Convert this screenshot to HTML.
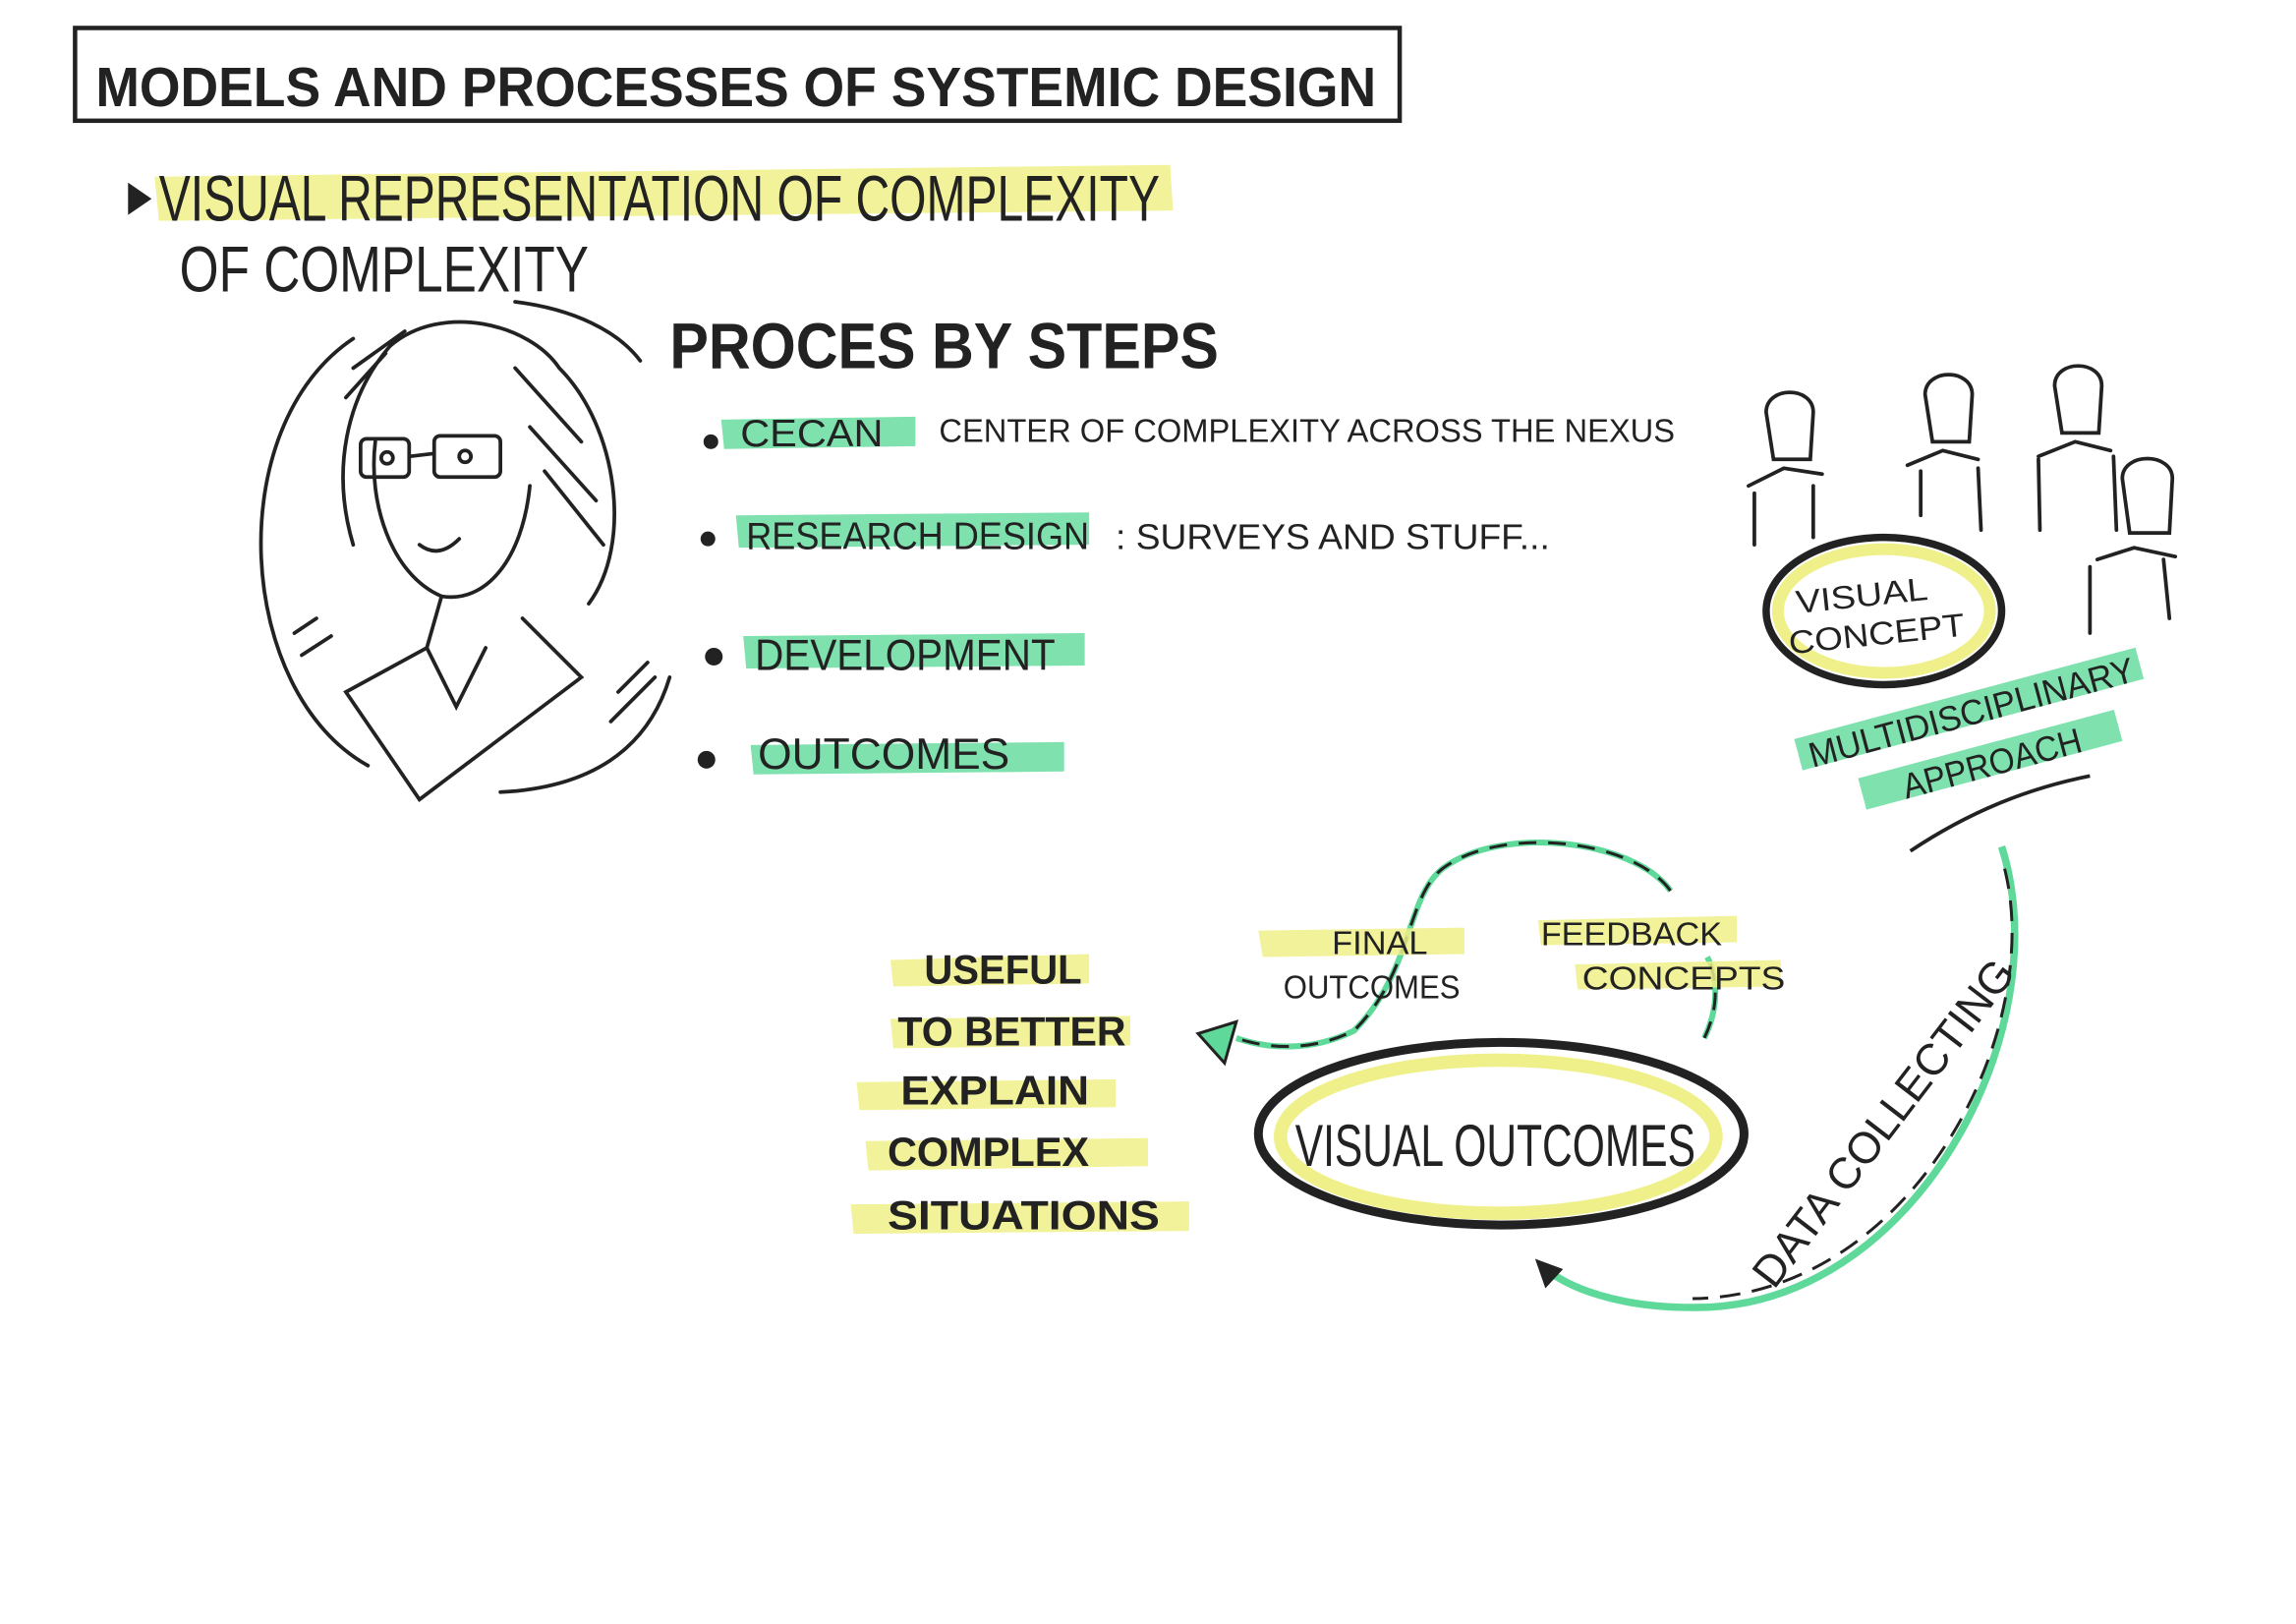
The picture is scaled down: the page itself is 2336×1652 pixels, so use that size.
<!DOCTYPE html>
<html><head><meta charset="utf-8">
<style>
html,body{margin:0;padding:0;background:#fff;}
svg{display:block;}
text{font-family:"Liberation Sans",sans-serif;fill:#222;}
.b{font-weight:bold;}
</style></head>
<body>
<svg width="2336" height="1652" viewBox="0 0 1560 1103" preserveAspectRatio="none" xmlns="http://www.w3.org/2000/svg">
<rect width="1560" height="1103" fill="#fff"/>
<rect x="51" y="19" width="900" height="63" fill="none" stroke="#222" stroke-width="3"/>
<text class="b" x="65" y="72" font-size="38" textLength="870" lengthAdjust="spacingAndGlyphs">MODELS AND PROCESSES OF SYSTEMIC DESIGN</text>

<path d="M105 120 L795 112 L797 143 L108 150 Z" fill="#f0f08a" opacity="0.85"/>
<polygon points="87,124 103,135 87,146" fill="#222"/>
<text x="108" y="150" font-size="44" textLength="680" lengthAdjust="spacingAndGlyphs">VISUAL REPRESENTATION  OF  COMPLEXITY</text>
<text x="122" y="198" font-size="44" textLength="278" lengthAdjust="spacingAndGlyphs">OF COMPLEXITY</text>

<g fill="none" stroke="#222" stroke-width="2.5" stroke-linecap="round">
<path d="M240 230 C150 290 160 470 250 520"/>
<path d="M350 205 C390 210 420 225 435 245"/>
<path d="M455 460 C440 510 400 535 340 538"/>
<path d="M265 235 C300 205 360 220 380 250 C420 290 430 370 400 410"/>
<path d="M265 235 C235 270 225 320 240 370"/>
<path d="M255 300 C250 340 265 390 300 405 C330 410 355 380 360 330"/>
<rect x="245" y="298" width="33" height="26" rx="4"/>
<rect x="295" y="296" width="45" height="28" rx="4"/>
<line x1="278" y1="310" x2="295" y2="308"/>
<circle cx="263" cy="311" r="4"/><circle cx="316" cy="310" r="4"/>
<path d="M285 370 Q298 380 312 366"/>
<path d="M300 405 L290 440 L235 470 L285 543 L395 460 L355 420"/>
<path d="M290 440 L310 480 L330 440"/>
<path d="M240 250 L275 225 M235 270 L262 240 M350 250 L395 300 M360 290 L405 340 M370 320 L410 370"/>
<path d="M200 430 L215 420 M205 445 L225 432 M420 470 L440 450 M415 490 L445 460"/>
</g>

<text class="b" x="455" y="250" font-size="44" textLength="373" lengthAdjust="spacingAndGlyphs">PROCES BY STEPS</text>
<path d="M490 285 L622 283 L622 303 L492 305 Z" fill="#5fd99a" opacity="0.8"/>
<circle cx="483" cy="300" r="5" fill="#222"/>
<text x="503" y="303" font-size="26" textLength="97" lengthAdjust="spacingAndGlyphs">CECAN</text>
<text x="638" y="300" font-size="22" textLength="500" lengthAdjust="spacingAndGlyphs">CENTER  OF  COMPLEXITY  ACROSS  THE  NEXUS</text>

<path d="M500 350 L740 348 L740 370 L502 372 Z" fill="#5fd99a" opacity="0.8"/>
<circle cx="481" cy="366" r="5" fill="#222"/>
<text x="507" y="373" font-size="26" textLength="233" lengthAdjust="spacingAndGlyphs">RESEARCH DESIGN</text>
<text x="758" y="373" font-size="24" textLength="295" lengthAdjust="spacingAndGlyphs">:  SURVEYS  AND STUFF...</text>

<path d="M505 432 L737 430 L737 452 L507 454 Z" fill="#5fd99a" opacity="0.8"/>
<circle cx="485" cy="446" r="6" fill="#222"/>
<text x="513" y="455" font-size="30" textLength="204" lengthAdjust="spacingAndGlyphs">DEVELOPMENT</text>

<path d="M510 506 L723 504 L723 524 L512 526 Z" fill="#5fd99a" opacity="0.8"/>
<circle cx="480" cy="516" r="6" fill="#222"/>
<text x="515" y="522" font-size="30" textLength="171" lengthAdjust="spacingAndGlyphs">OUTCOMES</text>

<g fill="none" stroke="#222" stroke-width="2.5" stroke-linecap="round">
<path d="M1200 280 C1200 262 1232 262 1232 280 L1230 312 L1205 312 Z"/><path d="M1188 330 L1212 318 L1238 322 M1192 335 L1192 370 M1232 330 L1232 365"/>
<path d="M1308 268 C1308 250 1340 250 1340 268 L1338 300 L1313 300 Z"/><path d="M1296 316 L1320 306 L1344 312 M1305 320 L1305 350 M1344 318 L1346 360"/>
<path d="M1396 262 C1396 244 1428 244 1428 262 L1426 294 L1401 294 Z"/><path d="M1385 310 L1410 300 L1434 306 M1385 312 L1386 360 M1436 310 L1438 360"/>
<path d="M1442 325 C1442 307 1476 307 1476 325 L1474 362 L1447 362 Z"/><path d="M1425 380 L1450 372 L1478 378 M1420 385 L1420 430 M1470 380 L1474 420"/>
</g>

<ellipse cx="1280" cy="415" rx="72" ry="42" fill="none" stroke="#f0f08a" stroke-width="8"/>
<ellipse cx="1280" cy="415" rx="80" ry="50" fill="none" stroke="#222" stroke-width="5"/>
<text x="1220" y="412" font-size="22" textLength="90" lengthAdjust="spacingAndGlyphs" transform="rotate(-6 1265 405)">VISUAL</text>
<text x="1215" y="438" font-size="22" textLength="120" lengthAdjust="spacingAndGlyphs" transform="rotate(-6 1275 430)">CONCEPT</text>

<g transform="rotate(-15 1340 482)">
<rect x="1218" y="470" width="240" height="22" fill="#5fd99a" opacity="0.8"/>
<text x="1225" y="492" font-size="24" textLength="228" lengthAdjust="spacingAndGlyphs">MULTIDISCIPLINARY</text>
</g>
<g transform="rotate(-15 1352 515)">
<rect x="1262" y="505" width="180" height="22" fill="#5fd99a" opacity="0.8"/>
<text x="1290" y="527" font-size="24" textLength="125" lengthAdjust="spacingAndGlyphs">APPROACH</text>
</g>
<path d="M1298 578 C1340 550 1380 535 1420 527" fill="none" stroke="#222" stroke-width="2.5"/>

<path d="M1360 575 C1400 700 1300 890 1150 888 C1100 888 1065 875 1048 860" fill="none" stroke="#5fd99a" stroke-width="5"/>
<path d="M1362 590 C1390 700 1300 880 1150 882" fill="none" stroke="#222" stroke-width="2" stroke-dasharray="14 8"/>
<polygon points="1043,855 1062,862 1050,875" fill="#222"/>
<text x="1143" y="774" font-size="30" textLength="271" lengthAdjust="spacingAndGlyphs" transform="rotate(-52.5 1278 762)">DATA COLLECTING</text>

<ellipse cx="1018" cy="772" rx="148" ry="52" fill="none" stroke="#f0f08a" stroke-width="9"/>
<ellipse cx="1020" cy="770" rx="165" ry="62" fill="none" stroke="#222" stroke-width="6"/>
<text x="880" y="792" font-size="40" textLength="272" lengthAdjust="spacingAndGlyphs">VISUAL OUTCOMES</text>

<path d="M1158 705 C1170 680 1165 660 1160 650 M1135 605 C1110 570 1020 560 980 590 C955 610 960 660 920 700 C890 715 860 712 840 705" fill="none" stroke="#5fd99a" stroke-width="4"/>
<path d="M1158 705 C1170 680 1165 660 1160 650 M1135 605 C1110 570 1020 560 980 590 C955 610 960 660 920 700 C890 715 860 712 840 705" fill="none" stroke="#222" stroke-width="2" stroke-dasharray="12 8"/>
<polygon points="814,702 840,694 832,722" fill="#5fd99a" stroke="#222" stroke-width="2"/>

<path d="M855 632 L995 630 L995 648 L858 650 Z" fill="#f0f08a" opacity="0.85"/>
<text x="905" y="648" font-size="22" textLength="65" lengthAdjust="spacingAndGlyphs">FINAL</text>
<text x="872" y="678" font-size="22" textLength="120" lengthAdjust="spacingAndGlyphs">OUTCOMES</text>
<path d="M1045 625 L1180 622 L1180 640 L1047 642 Z" fill="#f0f08a" opacity="0.85"/>
<text x="1047" y="642" font-size="22" textLength="123" lengthAdjust="spacingAndGlyphs">FEEDBACK</text>
<path d="M1070 655 L1210 652 L1210 670 L1072 672 Z" fill="#f0f08a" opacity="0.85"/>
<text x="1075" y="672" font-size="22" textLength="138" lengthAdjust="spacingAndGlyphs">CONCEPTS</text>

<g fill="#f0f08a" opacity="0.85">
<path d="M605 652 L740 648 L740 668 L607 670 Z"/>
<path d="M605 692 L768 690 L768 710 L607 712 Z"/>
<path d="M582 735 L758 733 L758 752 L584 754 Z"/>
<path d="M588 775 L780 773 L780 792 L590 795 Z"/>
<path d="M578 818 L808 816 L808 836 L580 838 Z"/>
</g>
<text class="b" x="628" y="668" font-size="28" textLength="107" lengthAdjust="spacingAndGlyphs">USEFUL</text>
<text class="b" x="610" y="710" font-size="28" textLength="155" lengthAdjust="spacingAndGlyphs">TO BETTER</text>
<text class="b" x="612" y="750" font-size="28" textLength="128" lengthAdjust="spacingAndGlyphs">EXPLAIN</text>
<text class="b" x="603" y="792" font-size="28" textLength="137" lengthAdjust="spacingAndGlyphs">COMPLEX</text>
<text class="b" x="603" y="835" font-size="28" textLength="185" lengthAdjust="spacingAndGlyphs">SITUATIONS</text>
</svg>
</body></html>
